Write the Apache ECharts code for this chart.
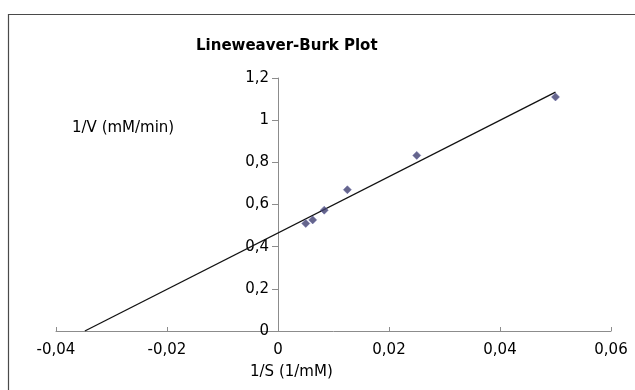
<!DOCTYPE html>
<html>
<head>
<meta charset="utf-8">
<script src="https://cdn.jsdelivr.net/npm/echarts@6/dist/echarts.min.js"></script>
<style>
  html, body { margin: 0; padding: 0; background: #fff; }
  #chart { width: 635px; height: 390px; }
</style>
</head>
<body>
<div id="chart"></div>
<script>
// measured points: 1/S (1/mM) vs 1/V
const invS = [0.005, 0.00625, 0.00833, 0.0125, 0.025, 0.05];
const invV = [0.51, 0.527, 0.573, 0.67, 0.833, 1.11];

// linear trendline end points
const trendX = [-0.0348, 0.05];
const trendY = [0, 1.133];

const xTicks = { min: -0.04, max: 0.06, interval: 0.02 };
const yTicks = { min: 0, max: 1.2, interval: 0.2 };

const FONT = "DejaVu Sans, sans-serif";
const comma = (v) => String(+v.toFixed(4)).replace(".", ",");

const GRID = { left: 56, right: 24, top: 78, bottom: 59 };
const plotW = 635 - GRID.left - GRID.right;
// y axis crosses at x = 0, shift it there from the left edge of the grid
const yShift = ((0 - xTicks.min) / (xTicks.max - xTicks.min)) * plotW;

const chart = echarts.init(document.getElementById("chart"), null, { renderer: "canvas" });

const option = {
  backgroundColor: "#ffffff",
  animation: false,
  title: [
    {
      text: "Lineweaver-Burk Plot",
      left: 196,
      top: 39,
      padding: 0,
      textStyle: { fontFamily: FONT, fontSize: 15, fontWeight: "bold", color: "#000" },
    },
    {
      text: "1/V (mM/min)",
      left: 72,
      top: 121,
      padding: 0,
      textStyle: { fontFamily: FONT, fontSize: 15, fontWeight: "normal", color: "#000" },
    },
    {
      text: "1/S (1/mM)",
      left: 250,
      top: 365,
      padding: 0,
      textStyle: { fontFamily: FONT, fontSize: 15, fontWeight: "normal", color: "#000" },
    },
  ],
  graphic: [
    {
      type: "rect",
      shape: { x: 8.5, y: 14.5, width: 700, height: 500 },
      style: { fill: "none", stroke: "#4a4a4a", lineWidth: 1.2 },
      silent: true,
    },
  ],
  grid: { ...GRID, containLabel: false },
  xAxis: {
    type: "value",
    min: xTicks.min,
    max: xTicks.max,
    interval: xTicks.interval,
    axisLine: { show: true, onZero: true, lineStyle: { color: "#8c8c8c", width: 1 } },
    axisTick: { show: true, inside: true, length: 4, lineStyle: { color: "#8c8c8c" } },
    axisLabel: {
      formatter: comma,
      margin: 12,
      color: "#000",
      fontFamily: FONT,
      fontSize: 15,
    },
    splitLine: { show: false },
  },
  yAxis: {
    type: "value",
    position: "left",
    offset: -yShift,
    min: yTicks.min,
    max: yTicks.max,
    interval: yTicks.interval,
    axisLine: { show: true, onZero: false, lineStyle: { color: "#8c8c8c", width: 1 } },
    axisTick: { show: true, length: 6, lineStyle: { color: "#8c8c8c" } },
    axisLabel: {
      formatter: comma,
      margin: 9,
      color: "#000",
      fontFamily: FONT,
      fontSize: 15,
    },
    splitLine: { show: false },
  },
  series: [
    {
      name: "trend",
      type: "line",
      data: trendX.map((x, i) => [x, trendY[i]]),
      showSymbol: false,
      lineStyle: { color: "#111", width: 1.3 },
      z: 2,
    },
    {
      name: "data",
      type: "scatter",
      data: invS.map((x, i) => [x, invV[i]]),
      symbol: "diamond",
      symbolSize: [8, 8],
      itemStyle: { color: "#3f3f6f", borderColor: "#5a5aa0", borderWidth: 0.6 },
      z: 3,
    },
  ],
};

chart.setOption(option);
</script>
</body>
</html>
